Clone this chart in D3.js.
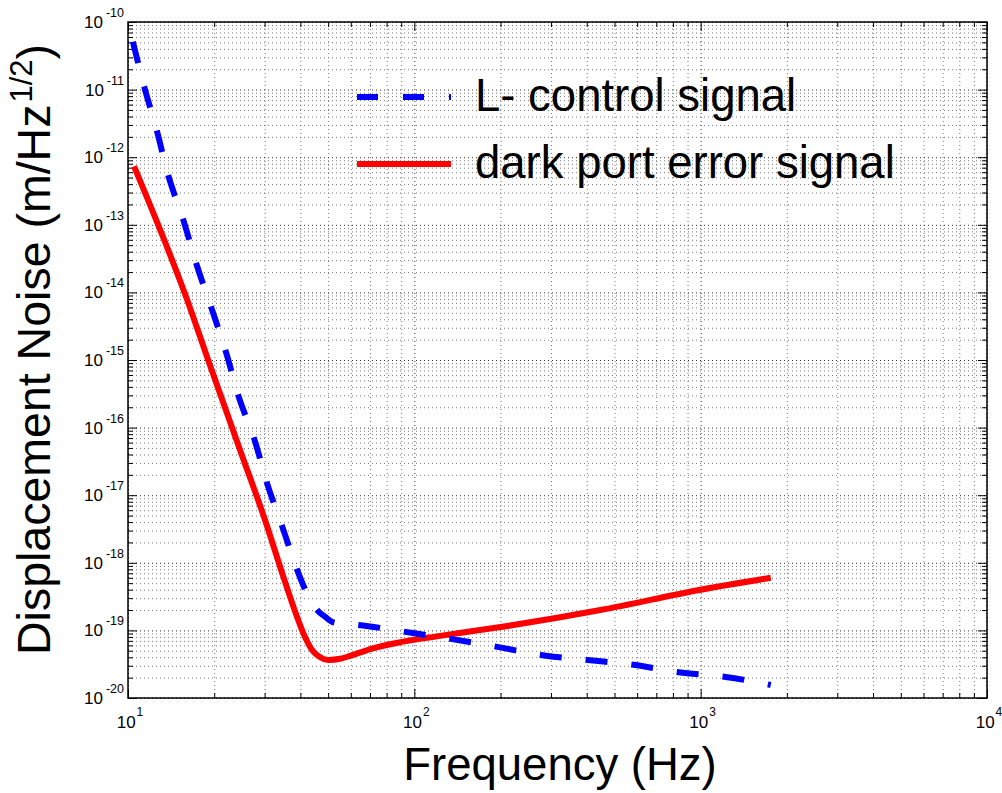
<!DOCTYPE html>
<html>
<head>
<meta charset="utf-8">
<script src="https://cdn.jsdelivr.net/npm/d3@7"></script>
<style>
  body { margin: 0; background: #fff; }
  text { font-family: "Liberation Sans", Arial, Helvetica, sans-serif; fill: #000; }
</style>
</head>
<body>
<div id="chart"></div>
<script>
// L- control signal (blue, dashed)
const freqL = [10.4, 11.4, 12.6, 13.8, 15.6, 17.4, 19.5, 22.0, 24.4, 27.6, 30.6, 34.6, 39.0, 41.6, 45.8, 48.9, 51.7, 55.1, 63.7, 93, 134, 195, 280, 403, 583, 838, 1223, 1757];
const ampL = [5.1e-11, 1.09e-11, 2.5e-12, 5.5e-13, 1.18e-13, 2.5e-14, 6.1e-15, 1.3e-15, 2.8e-16, 6.8e-17, 1.5e-17, 3.4e-18, 7.8e-19, 4.0e-19, 2.0e-19, 1.58e-19, 1.33e-19, 1.26e-19, 1.2e-19, 9.5e-20, 7.5e-20, 5.7e-20, 4.3e-20, 3.65e-20, 3.1e-20, 2.4e-20, 2.05e-20, 1.56e-20];

// dark port error signal (red, solid)
const freqD = [10.5, 16.1, 19.05, 24.6, 30.1, 34.8, 38.7, 40.9, 44.0, 46.9, 50.0, 55.1, 59.7, 70.2, 89.4, 123, 200, 447, 1000, 1757];
const ampD = [7.3e-13, 7.7e-15, 1.0e-15, 4.7e-17, 4.3e-18, 6.4e-19, 1.7e-19, 9.2e-20, 5.1e-20, 4.0e-20, 3.65e-20, 3.8e-20, 4.2e-20, 5.3e-20, 6.7e-20, 8.3e-20, 1.12e-19, 2.0e-19, 4.0e-19, 6.0e-19];

const legendLabels = ["L- control signal", "dark port error signal"];
const xTickExp = [1, 2, 3, 4];
const yTickExp = [-10, -11, -12, -13, -14, -15, -16, -17, -18, -19, -20];

const W = 1002, H = 793;
const pLeft = 128, pRight = 987, pTop = 22, pBottom = 698;

const svg = d3.select("#chart").append("svg")
  .attr("width", W).attr("height", H);

const x = d3.scaleLog().domain([10, 1e4]).range([pLeft, pRight]);
const y = d3.scaleLog().domain([1e-20, 1e-10]).range([pBottom, pTop]);

const isMajor = v => Math.abs(Math.log10(v) - Math.round(Math.log10(v))) < 1e-9;
const xAll = x.ticks();
const yAll = y.ticks(100);
const xMinor = xAll.filter(v => !isMajor(v)), xMajor = xAll.filter(isMajor);
const yMinor = yAll.filter(v => !isMajor(v)), yMajor = yAll.filter(isMajor);

// dotted grid
const gridX = svg.append("g").attr("transform", "translate(0," + pBottom + ")")
  .call(d3.axisBottom(x).tickValues(xAll).tickSize(-(pBottom - pTop)).tickFormat(""));
const gridY = svg.append("g").attr("transform", "translate(" + pLeft + ",0)")
  .call(d3.axisLeft(y).tickValues(yAll).tickSize(-(pRight - pLeft)).tickFormat(""));
[gridX, gridY].forEach(g => {
  g.select(".domain").remove();
  g.selectAll("line")
    .attr("stroke", d => isMajor(d) ? "#333" : "#777")
    .attr("stroke-width", 1)
    .attr("stroke-dasharray", "1,3");
});

// inward ticks on all four sides
function ticks(axis, tr, vals, len) {
  const g = svg.append("g").attr("transform", tr)
    .call(axis.tickValues(vals).tickSize(-len).tickFormat(""));
  g.select(".domain").remove();
  g.selectAll("line").attr("stroke", "#000").attr("stroke-width", 1);
}
ticks(d3.axisBottom(x), "translate(0," + pBottom + ")", xMinor, 5);
ticks(d3.axisBottom(x), "translate(0," + pBottom + ")", xMajor, 9);
ticks(d3.axisTop(x), "translate(0," + pTop + ")", xMinor, 5);
ticks(d3.axisTop(x), "translate(0," + pTop + ")", xMajor, 9);
ticks(d3.axisLeft(y), "translate(" + pLeft + ",0)", yMinor, 5);
ticks(d3.axisLeft(y), "translate(" + pLeft + ",0)", yMajor, 9);
ticks(d3.axisRight(y), "translate(" + pRight + ",0)", yMinor, 5);
ticks(d3.axisRight(y), "translate(" + pRight + ",0)", yMajor, 9);

// frame
svg.append("rect")
  .attr("x", pLeft).attr("y", pTop)
  .attr("width", pRight - pLeft).attr("height", pBottom - pTop)
  .attr("fill", "none").attr("stroke", "#000").attr("stroke-width", 1.5);

// tick labels
const xl = svg.append("g").selectAll("text").data(xTickExp).enter().append("text")
  .attr("x", d => x(Math.pow(10, d)) + 2)
  .attr("y", 728)
  .attr("text-anchor", "middle")
  .attr("font-size", 17);
xl.append("tspan").text("10");
xl.append("tspan").attr("dx", 1).attr("dy", -12).attr("font-size", 12).text(d => d);

const yl = svg.append("g").selectAll("text").data(yTickExp).enter().append("text")
  .attr("x", 124)
  .attr("y", d => y(Math.pow(10, d)) + 6)
  .attr("text-anchor", "end")
  .attr("font-size", 17);
yl.append("tspan").text("10");
yl.append("tspan").attr("dx", 3).attr("dy", -11).attr("font-size", 12.5).text(d => d);

// curves
const line = d3.line().curve(d3.curveMonotoneX)
  .x(d => x(d[0])).y(d => y(d[1]));

svg.append("path")
  .datum(d3.zip(freqD, ampD))
  .attr("d", line)
  .attr("fill", "none").attr("stroke", "#ff0000").attr("stroke-width", 6);

svg.append("path")
  .datum(d3.zip(freqL, ampL))
  .attr("d", line)
  .attr("fill", "none").attr("stroke", "#0000ff").attr("stroke-width", 6)
  .attr("stroke-dasharray", "22,24");

// legend
const legend = svg.append("g");
const legY = [97, 164];
const legColor = ["#0000ff", "#ff0000"];
const legDash = ["21,25", null];
legendLabels.forEach((lab, i) => {
  legend.append("line")
    .attr("x1", 357).attr("x2", 451)
    .attr("y1", legY[i]).attr("y2", legY[i])
    .attr("stroke", legColor[i]).attr("stroke-width", 6)
    .attr("stroke-dasharray", legDash[i]);
  legend.append("text")
    .attr("x", 475).attr("y", legY[i] + 14)
    .attr("font-size", 45.5)
    .text(lab);
});

// axis titles
svg.append("text")
  .attr("x", 560).attr("y", 780)
  .attr("text-anchor", "middle")
  .attr("font-size", 45.5)
  .text("Frequency (Hz)");

const yt = svg.append("text")
  .attr("transform", "translate(50,655) rotate(-90)")
  .attr("font-size", 46.5);
yt.append("tspan").text("Displacement Noise (m/Hz");
yt.append("tspan").attr("dx", 2).attr("dy", -18).attr("font-size", 31).text("1/2");
yt.append("tspan").attr("dy", 18).text(")");
</script>
</body>
</html>
